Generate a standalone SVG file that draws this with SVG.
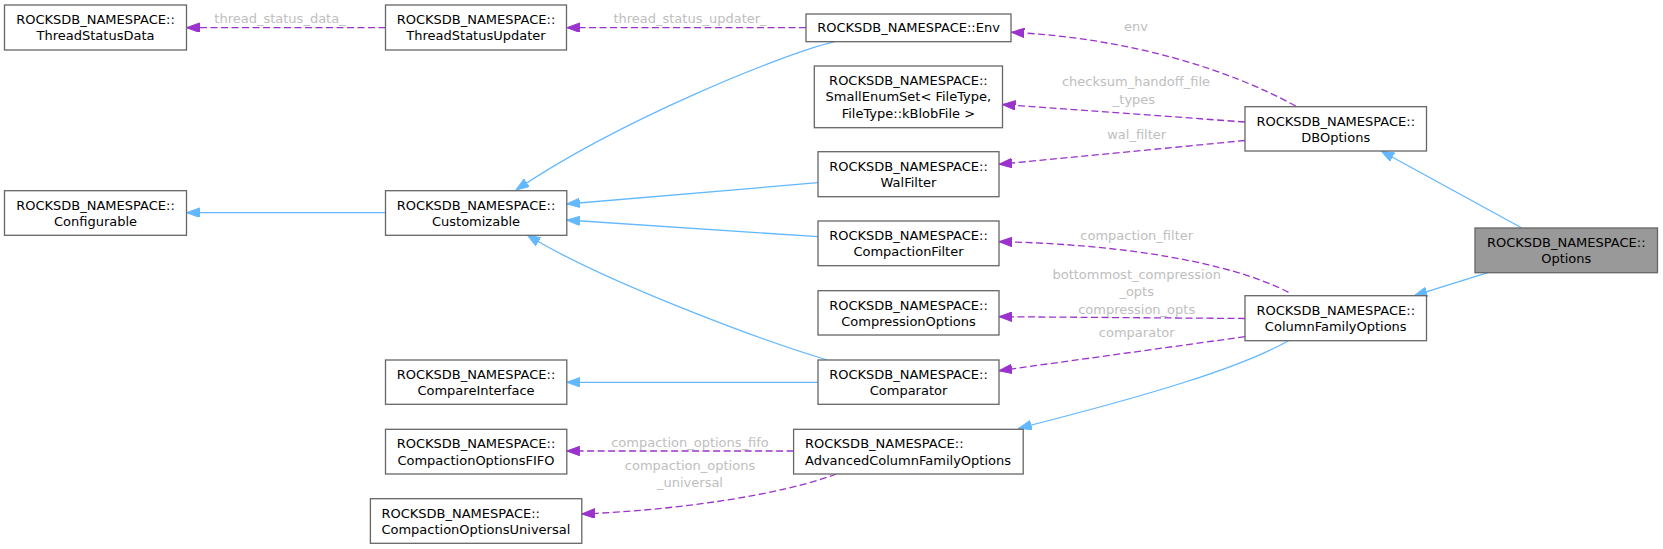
<svg xmlns="http://www.w3.org/2000/svg" width="1663" height="549" viewBox="0 0 1663 549">
<style>
.n rect{fill:#ffffff;stroke:#666666;stroke-width:1.3}
.sel rect{fill:#999999}
.n text{font-family:"DejaVu Sans",sans-serif;font-size:13px;fill:#000000;text-anchor:middle}
.n text.l{text-anchor:start}
.inh{fill:none;stroke:#63b8ff;stroke-width:1.3;marker-end:url(#ab)}
.use{fill:none;stroke:#9a32cd;stroke-width:1.3;stroke-dasharray:7,3.5;marker-end:url(#ap)}
.lb{font-family:"DejaVu Sans",sans-serif;font-size:13px;fill:#bebebe;text-anchor:middle}
</style>
<defs>
<marker id="ab" markerUnits="userSpaceOnUse" markerWidth="14" markerHeight="10" refX="13" refY="4.75" orient="auto"><path d="M0,0 L13,4.75 L0,9.5 z" fill="#63b8ff" stroke="#63b8ff" stroke-width="1"/></marker>
<marker id="ap" markerUnits="userSpaceOnUse" markerWidth="14" markerHeight="10" refX="13" refY="4.75" orient="auto"><path d="M0,0 L13,4.75 L0,9.5 z" fill="#9a32cd" stroke="#9a32cd" stroke-width="1"/></marker>
</defs>
<rect width="1663" height="549" fill="#ffffff"/>
<g id="edges">
<path class="use" d="M385.5,27.7 L186.5,27.7"/>
<text class="lb" x="280" y="22.5">thread_status_data_</text>
<path class="use" d="M806,27.7 L566.8,27.7"/>
<text class="lb" x="690" y="22.5">thread_status_updater_</text>
<path class="inh" d="M834.6,41.7 C780,55 620,120 516,190"/>
<path class="inh" d="M818,182.7 L566.8,204"/>
<path class="inh" d="M818,236.7 L566.8,220"/>
<path class="inh" d="M827.5,360 C760,340 600,280 527.3,235"/>
<path class="inh" d="M385.5,212.7 L186.5,212.7"/>
<path class="inh" d="M818,382.3 L566.8,382.3"/>
<path class="use" d="M793.6,451 L566.8,451"/>
<text class="lb" x="690" y="446.8">compaction_options_fifo</text>
<path class="use" d="M836.4,474 C780,495 680,510 581.8,514"/>
<text class="lb" x="690" y="470.3">compaction_options</text>
<text class="lb" x="690" y="487">_universal</text>
<path class="use" d="M1295.7,106 C1230,70 1130,38 1011.4,32.3"/>
<text class="lb" x="1136" y="31.3">env</text>
<path class="use" d="M1245,122 L1002.5,104.5"/>
<text class="lb" x="1136" y="86.3">checksum_handoff_file</text>
<text class="lb" x="1134" y="103.6">_types</text>
<path class="use" d="M1245,140.5 L999,164.3"/>
<text class="lb" x="1136.7" y="138.6">wal_filter</text>
<path class="inh" d="M1521.9,228 L1381.1,151"/>
<path class="inh" d="M1487.8,272.7 L1414.2,295.7"/>
<path class="use" d="M1288.5,292.3 C1230,262 1120,244 999,241.7"/>
<text class="lb" x="1136.7" y="239.6">compaction_filter</text>
<path class="use" d="M1245,318.5 L999,316.7"/>
<text class="lb" x="1136.7" y="279">bottommost_compression</text>
<text class="lb" x="1136.7" y="296.3">_opts</text>
<text class="lb" x="1136.7" y="313.6">compression_opts</text>
<path class="use" d="M1245,336.7 L999,370.7"/>
<text class="lb" x="1136.7" y="337">comparator</text>
<path class="inh" d="M1288.5,340.7 C1240,368 1150,395 1018.6,428.3"/>
</g>
<g id="ThreadStatusData" class="n"><rect x="4.5" y="5" width="182" height="45"/><text x="95.5" y="23.8">ROCKSDB_NAMESPACE::</text><text x="95.5" y="40.3">ThreadStatusData</text></g>
<g id="ThreadStatusUpdater" class="n"><rect x="385.5" y="5" width="181" height="45"/><text x="476" y="23.8">ROCKSDB_NAMESPACE::</text><text x="476" y="40.3">ThreadStatusUpdater</text></g>
<g id="Env" class="n"><rect x="806" y="14" width="205" height="27.7"/><text x="908.5" y="32.4">ROCKSDB_NAMESPACE::Env</text></g>
<g id="SmallEnumSet" class="n"><rect x="814.3" y="66" width="188.2" height="61.7"/><text x="908.4" y="84.7">ROCKSDB_NAMESPACE::</text><text x="908.4" y="101.3">SmallEnumSet&lt; FileType,</text><text x="908.4" y="117.9">FileType::kBlobFile &gt;</text></g>
<g id="DBOptions" class="n"><rect x="1245" y="106.7" width="181.5" height="44.3"/><text x="1335.75" y="125.5">ROCKSDB_NAMESPACE::</text><text x="1335.75" y="142">DBOptions</text></g>
<g id="Options" class="n sel"><rect x="1475" y="228" width="182.5" height="44.7"/><text x="1566.25" y="246.8">ROCKSDB_NAMESPACE::</text><text x="1566.25" y="263.3">Options</text></g>
<g id="WalFilter" class="n"><rect x="818" y="151.7" width="181" height="45"/><text x="908.5" y="170.5">ROCKSDB_NAMESPACE::</text><text x="908.5" y="187">WalFilter</text></g>
<g id="CompactionFilter" class="n"><rect x="818" y="221" width="181" height="44.7"/><text x="908.5" y="239.8">ROCKSDB_NAMESPACE::</text><text x="908.5" y="256.3">CompactionFilter</text></g>
<g id="Configurable" class="n"><rect x="4.5" y="190.7" width="182" height="44.6"/><text x="95.5" y="209.5">ROCKSDB_NAMESPACE::</text><text x="95.5" y="226">Configurable</text></g>
<g id="Customizable" class="n"><rect x="385.5" y="190.7" width="181.3" height="44.6"/><text x="476" y="209.5">ROCKSDB_NAMESPACE::</text><text x="476" y="226">Customizable</text></g>
<g id="CompressionOptions" class="n"><rect x="818" y="290.7" width="181" height="44.3"/><text x="908.5" y="309.5">ROCKSDB_NAMESPACE::</text><text x="908.5" y="326">CompressionOptions</text></g>
<g id="ColumnFamilyOptions" class="n"><rect x="1245" y="295.7" width="181.5" height="45"/><text x="1335.75" y="314.5">ROCKSDB_NAMESPACE::</text><text x="1335.75" y="331">ColumnFamilyOptions</text></g>
<g id="CompareInterface" class="n"><rect x="385.5" y="360" width="181.3" height="44.3"/><text x="476" y="378.8">ROCKSDB_NAMESPACE::</text><text x="476" y="395.3">CompareInterface</text></g>
<g id="Comparator" class="n"><rect x="818" y="360" width="181" height="44.3"/><text x="908.5" y="378.8">ROCKSDB_NAMESPACE::</text><text x="908.5" y="395.3">Comparator</text></g>
<g id="AdvancedColumnFamilyOptions" class="n"><rect x="793.6" y="429.3" width="229.6" height="44.7"/><text class="l" x="805" y="448.1">ROCKSDB_NAMESPACE::</text><text class="l" x="805" y="464.6">AdvancedColumnFamilyOptions</text></g>
<g id="CompactionOptionsFIFO" class="n"><rect x="385.5" y="429.3" width="181.3" height="44.7"/><text x="476" y="448.1">ROCKSDB_NAMESPACE::</text><text x="476" y="464.6">CompactionOptionsFIFO</text></g>
<g id="CompactionOptionsUniversal" class="n"><rect x="370.4" y="498.7" width="211.4" height="44.6"/><text class="l" x="381.4" y="517.5">ROCKSDB_NAMESPACE::</text><text class="l" x="381.4" y="534">CompactionOptionsUniversal</text></g>
</svg>
